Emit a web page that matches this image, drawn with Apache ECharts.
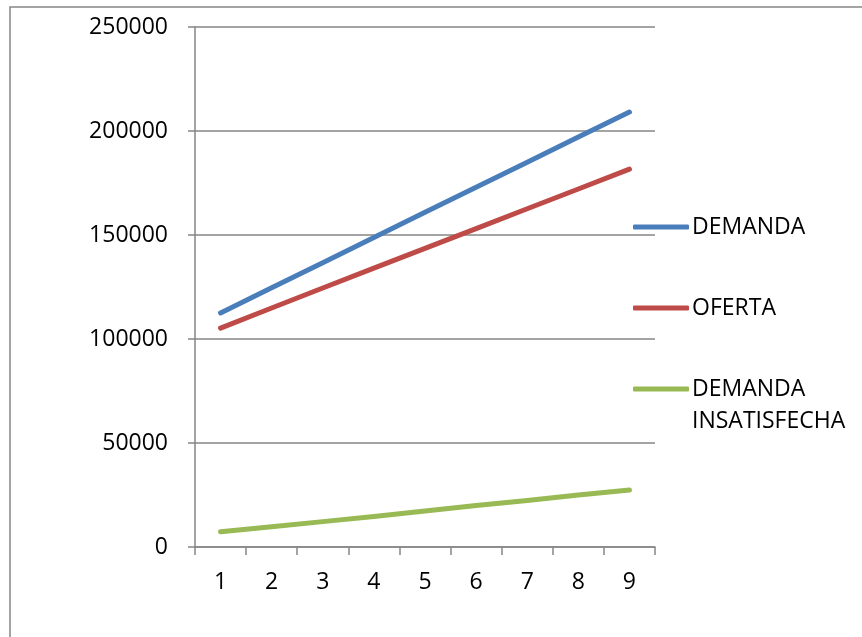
<!DOCTYPE html>
<html>
<head>
<meta charset="utf-8">
<style>
  html, body { margin: 0; padding: 0; background: #ffffff; }
  #chart { width: 862px; height: 637px; }
</style>
<script src="https://cdn.jsdelivr.net/npm/echarts@6/dist/echarts.min.js"></script>
</head>
<body>
<div id="chart"></div>
<script>
// Periods on the horizontal axis
const periods = ['1', '2', '3', '4', '5', '6', '7', '8', '9'];

// Series values per period
const demanda = [112500, 124600, 136700, 148800, 160900, 173000, 185000, 197100, 209100];
const oferta = [105200, 114900, 124500, 134100, 143600, 153100, 162600, 172100, 181700];
const demandaInsatisfecha = [7300, 9700, 12200, 14700, 17300, 19900, 22400, 25000, 27400];

// Value axis ticks
const yTicks = [0, 50000, 100000, 150000, 200000, 250000];

const FONT = '"Open Sans", "Noto Sans", sans-serif';
const AXIS_GRAY = '#868686';

const chart = echarts.init(document.getElementById('chart'), null, { renderer: 'canvas' });

function lineSeries(name, data, color) {
  return {
    name: name,
    type: 'line',
    data: data,
    symbol: 'none',
    smooth: false,
    lineStyle: { color: color, width: 5, cap: 'round', join: 'round' },
    itemStyle: { color: color },
    emphasis: { disabled: true }
  };
}

// The long legend entry wraps onto a second line; the icon stays beside the first line
const LONG_NAME = 'DEMANDA INSATISFECHA';
const LONG_FIRST = 'DEMANDA';
const LONG_SECOND = 'INSATISFECHA';

chart.setOption({
  animation: false,
  backgroundColor: '#ffffff',
  grid: { left: 195, right: 207, top: 27, bottom: 90, containLabel: false },
  xAxis: {
    type: 'category',
    data: periods,
    boundaryGap: true,
    axisLine: { show: true, lineStyle: { color: AXIS_GRAY, width: 1.5 } },
    axisTick: { show: true, inside: false, length: 8, alignWithLabel: false, lineStyle: { color: AXIS_GRAY, width: 1.5 } },
    axisLabel: { color: '#000000', fontFamily: FONT, fontSize: 23, margin: 24 },
    splitLine: { show: false }
  },
  yAxis: {
    type: 'value',
    min: yTicks[0],
    max: yTicks[yTicks.length - 1],
    interval: yTicks[1] - yTicks[0],
    axisLine: { show: true, lineStyle: { color: AXIS_GRAY, width: 1.5 } },
    axisTick: { show: true, inside: false, length: 7, lineStyle: { color: AXIS_GRAY, width: 1.5 } },
    axisLabel: {
      color: '#000000', fontFamily: FONT, fontSize: 23, margin: 27,
      formatter: function (v) { return String(v); }
    },
    splitLine: { show: true, lineStyle: { color: AXIS_GRAY, width: 1.5 } }
  },
  legend: {
    orient: 'vertical',
    left: 633,
    top: 211,
    icon: 'roundRect',
    itemWidth: 56,
    itemHeight: 5,
    itemGap: 49,
    padding: 0,
    selectedMode: false,
    formatter: function (name) {
      return name === LONG_NAME ? LONG_FIRST : name;
    },
    textStyle: { color: '#000000', fontFamily: FONT, fontSize: 23, lineHeight: 32, padding: [0, 0, 0, -2] },
    data: ['DEMANDA', 'OFERTA', LONG_NAME]
  },
  graphic: [
    {
      type: 'rect',
      silent: true,
      shape: { x: 10, y: 7, width: 900, height: 700 },
      style: { fill: null, stroke: AXIS_GRAY, lineWidth: 1.5 }
    },
    {
      type: 'text',
      silent: true,
      left: 692,
      top: 410,
      style: { text: LONG_SECOND, fill: '#000000', font: '23px ' + FONT }
    }
  ],
  series: [
    lineSeries('DEMANDA', demanda, '#4A7EBB'),
    lineSeries('OFERTA', oferta, '#BE4B48'),
    lineSeries(LONG_NAME, demandaInsatisfecha, '#98B954')
  ]
});
</script>
</body>
</html>
